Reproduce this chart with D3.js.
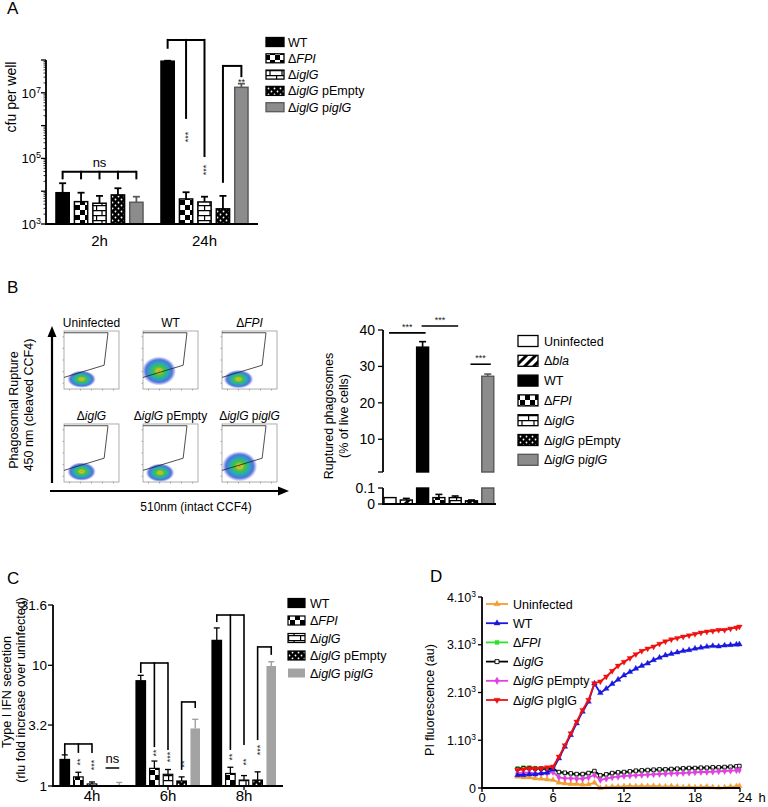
<!DOCTYPE html>
<html><head><meta charset="utf-8">
<script src="https://cdn.jsdelivr.net/npm/d3@7/dist/d3.min.js"></script>
<style>html,body{margin:0;padding:0;background:#fff;}svg{display:block}</style>
</head><body>
<svg id="fig" width="768" height="807"></svg>
<script>
// ================= DATA =================
const labelParts = {
  Uninfected: [["Uninfected",0]],
  bla: [["Δ",0],["bla",1]],
  WT: [["WT",0]],
  FPI: [["Δ",0],["FPI",1]],
  iglG: [["Δ",0],["iglG",1]],
  pEmpty: [["Δ",0],["iglG",1],[" pEmpty",0]],
  piglG: [["Δ",0],["iglG",1],[" p",0],["iglG",1]],
  pIglGD: [["Δ",0],["iglG",1],[" pIglG",0]]
};
// Panel A
const strainsA = ["WT","FPI","iglG","pEmpty","piglG"];
const timesA = ["2h","24h"];
const cfuMean  = [[9000,4800,4300,7700,4600],[9.2e7,5800,4700,2900,1.47e7]];
const cfuUpper = [[17500,9000,7200,12300,6800],[9.5e7,9300,6800,7200,1.9e7]];
const cfuLabelExp = [3,5,7];
const bracketsA = [
  {g:0, level:3.9e4, legs:[[0,2.3e4],[1,2.3e4],[2,2.3e4],[3,2.3e4],[4,2.3e4]], text:"ns"},
  {g:1, level:4.1e8, legs:[[0,2.2e8],[1,1.6e6],[2,1.1e5]]},
  {g:1, level:6.6e7, legs:[[3,1.8e4],[4,3.0e7]]}
];
const starsA = [
  {g:1, bar:1, at:4.5e5, text:"***", v:1},
  {g:1, bar:2, at:4.4e4, text:"***", v:1},
  {g:1, bar:4, at:1.9e7, text:"**", v:0}
];
// Panel B (flow)
const flowIds = ["Uninfected","WT","FPI","iglG","pEmpty","piglG"];
const flowCenterX = [0.32,0.29,0.30,0.32,0.31,0.32];
const flowCenterY = [0.17,0.31,0.17,0.18,0.16,0.27];
const flowSpreadX = [0.26,0.31,0.27,0.26,0.26,0.32];
const flowSpreadY = [0.15,0.25,0.16,0.16,0.16,0.26];
const gateX = [0,0.73,0.80,0];
const gateY = [0.20,0.41,0.97,0.97];
// Panel B (bars)
const strainsB = ["Uninfected","bla","WT","FPI","iglG","pEmpty","piglG"];
const ruptMean  = [0.04,0.025,35.3,0.04,0.04,0.02,27.3];
const ruptUpper = [0.04,0.035,36.8,0.06,0.05,0.025,27.9];
const ruptTicksUpper = [10,20,30,40];
const ruptTicksLower = [0,0.1];
const sigB = [{a:0,b:2,level:39.2},{a:2,b:4,level:41.1},{a:5,b:6,level:30.6}];
// Panel C
const timesC = ["4h","6h","8h"];
const ifnMean  = [[1.66,1.19,1.04,1.0,1.02],[7.45,1.40,1.25,1.10,3.0],[16.1,1.27,1.12,1.12,9.87]];
const ifnUpper = [[1.81,1.30,1.08,1.0,1.07],[8.26,1.61,1.37,1.19,3.57],[20.4,1.43,1.22,1.31,10.7]];
const ifnTicks = [1,3.2,10,31.6];
const ifnTickLabels = ["1","3.2","10","31.6"];
const bracketsC = [
  {g:0, level:2.23, legs:[[0,1.81],[1,1.88],[2,1.88]]},
  {g:0, level:1.41, legs:[[3,1.41],[4,1.41]], text:"ns"},
  {g:1, level:10.45, legs:[[0,8.63],[1,2.1],[2,1.99]]},
  {g:1, level:4.97, legs:[[3,1.36],[4,4.43]]},
  {g:2, level:26.1, legs:[[0,22.8],[1,1.99],[2,2.19]]},
  {g:2, level:14.2, legs:[[3,2.40],[4,12.2]]}
];
const starsC = [
  {g:0,bar:1,at:1.58,text:"**"},{g:0,bar:2,at:1.49,text:"***"},
  {g:1,bar:1,at:1.88,text:"**"},{g:1,bar:2,at:1.74,text:"***"},{g:1,bar:3,at:1.52,text:"**"},
  {g:2,bar:1,at:1.74,text:"**"},{g:2,bar:2,at:1.58,text:"**"},{g:2,bar:3,at:1.99,text:"***"}
];
// Panel D
const seriesD = ["Uninfected","WT","FPI","iglG","pEmpty","piglG"];
const hoursD = [3,3.5,4,4.5,5,5.5,6,6.5,7,7.5,8,8.5,9,9.5,10,10.5,11,11.5,12,12.5,13,13.5,14,14.5,15,15.5,16,16.5,17,17.5,18,18.5,19,19.5,20,20.5,21,21.5,21.75];
const piUninfected = [237,223,223,202,195,181,168,112,98,84,84,70,75,112,0,14,28,28,35,42,35,42,35,42,35,28,35,28,14,28,14,21,28,14,7,14,28,35,42];
const piWT = [272,272,286,286,307,321,391,621,865,1110,1354,1598,1808,2190,1990,2080,2180,2270,2360,2430,2500,2560,2610,2680,2730,2780,2810,2840,2870,2890,2920,2940,2960,2975,2965,2985,2995,3005,3010];
const piFPI = [412,433,433,419,412,405,412,321,307,293,272,272,300,342,251,272,300,314,321,335,349,356,363,370,377,377,384,391,398,405,405,412,412,419,419,426,433,440,447];
const piIglG = [398,412,412,405,405,398,405,335,321,307,293,293,314,356,265,286,314,328,335,349,363,370,377,384,391,391,398,405,412,419,419,426,426,433,433,440,447,454,461];
const piPEmpty = [307,321,321,307,307,307,335,223,202,202,195,195,220,272,168,195,223,237,251,258,265,272,279,286,293,300,307,307,314,321,328,335,335,342,349,356,363,370,377];
const piPIglG = [377,391,412,405,412,433,447,656,893,1145,1389,1633,1843,2190,2230,2330,2450,2560,2640,2720,2800,2870,2920,2960,3020,3070,3110,3140,3170,3195,3225,3253,3274,3288,3309,3309,3337,3357,3378];
const piValues = [piUninfected, piWT, piFPI, piIglG, piPEmpty, piPIglG];
const piTicks = [0,1000,2000,3000,4000];
const hourTicks = [0,6,12,18];
const hourEndLabel = "24";
const hourUnit = "h";

// ================= STYLE =================
const FONT = "'Liberation Sans', Arial, Helvetica, sans-serif";
const svg = d3.select("#fig").style("font-family", FONT);
const defs = svg.append("defs");
function pattern(id,w,h,bg,fn){
  const p = defs.append("pattern").attr("id",id).attr("patternUnits","userSpaceOnUse").attr("width",w).attr("height",h);
  p.append("rect").attr("width",w).attr("height",h).attr("fill",bg); fn(p);
}
pattern("pChecker",10,10,"#fff",p=>p.append("path").attr("d","M0,0h5v5h-5zM5,5h5v5h-5z").attr("fill","#000"));
pattern("pBricks",12,10,"#fff",p=>p.append("path").attr("d","M0,0.6H12M0,5.6H12M6,0.6V5.6M0.6,5.6V10.6").attr("stroke","#000").attr("stroke-width",1.2).attr("fill","none"));
pattern("pDots",6,6,"#000",p=>{p.append("circle").attr("cx",1.5).attr("cy",1.5).attr("r",0.9).attr("fill","#fff");p.append("circle").attr("cx",4.5).attr("cy",4.5).attr("r",0.9).attr("fill","#fff");});
pattern("pDiag",9,9,"#fff",p=>p.append("path").attr("d","M-3,3L3,-3M0,9L9,0M6,12L12,6").attr("stroke","#000").attr("stroke-width",3));
const rg = defs.append("radialGradient").attr("id","gDens");
[[0,"#e08a20",1],[0.12,"#c8c828",1],[0.3,"#4cc040",1],[0.55,"#18a8b0",0.95],[0.78,"#2850d8",0.8],[1,"#3050e0",0]]
  .forEach(([o,c,op])=>rg.append("stop").attr("offset",o).attr("stop-color",c).attr("stop-opacity",op));

const fillOf = {WT:"#000",FPI:"url(#pChecker)",iglG:"url(#pBricks)",pEmpty:"url(#pDots)",piglG:"#8c8c8c",Uninfected:"#fff",bla:"url(#pDiag)"};
const STAR = "#222";

function rich(sel, parts){ parts.forEach(([t,it])=>sel.append("tspan").text(t).attr("font-style", it?"italic":null)); return sel; }
function line(g,x1,y1,x2,y2,c,w){ return g.append("line").attr("x1",x1).attr("y1",y1).attr("x2",x2).attr("y2",y2).attr("stroke",c||"#000").attr("stroke-width",w||1.5); }
function errBar(g,cx,y0,y1,cap,c,w){ line(g,cx,y0,cx,y1,c,w); line(g,cx-cap/2,y1,cx+cap/2,y1,c,w); }
function vstars(g,cx,cy,txt,fs,c){ g.append("text").attr("transform",`translate(${cx+fs*0.55},${cy}) rotate(-90)`).attr("text-anchor","middle").attr("font-size",fs).attr("fill",c||STAR).text(txt); }
function panelLetter(t,x,y){ svg.append("text").attr("x",x).attr("y",y).attr("font-size",17).text(t); }
function bracket(g, xs, yLevel, yEnds, w){
  line(g, d3.min(xs), yLevel, d3.max(xs), yLevel, "#000", w);
  xs.forEach((x,i)=>line(g, x, yLevel-w/2, x, yEnds[i], "#000", w));
}

// ================= PANEL A =================
panelLetter("A",7,14);
const gA = svg.append("g");
const yA = d3.scaleLog().domain([1e3,1e8]).range([224,60]);
const xA = d3.scaleBand().domain(timesA).range([46,258]).paddingInner(0.171).paddingOuter(0.095);
const xAi = d3.scaleBand().domain(d3.range(5)).range([0,xA.bandwidth()]).paddingInner(0.28);
const cxA = (g,i)=>xA(timesA[g])+xAi(i)+xAi.bandwidth()/2;
timesA.forEach((t,gi)=>strainsA.forEach((s,i)=>{
  const x = xA(t)+xAi(i), w = xAi.bandwidth(), v = cfuMean[gi][i];
  const sc = s==="piglG" ? "#5a5a5a" : "#000";
  errBar(gA, x+w/2, yA(v), yA(cfuUpper[gi][i]), 7, sc, 1.8);
  gA.append("rect").attr("x",x).attr("y",yA(v)).attr("width",w).attr("height",yA(1e3)-yA(v))
    .attr("fill",fillOf[s]).attr("stroke",sc).attr("stroke-width",1.5);
}));
line(gA,46,yA(1e3)+0.8,46,yA(1e8),"#000",1.8);
yA.ticks().forEach(v=>{
  const major = Math.abs(Math.log10(v)-Math.round(Math.log10(v)))<1e-9;
  line(gA,46,yA(v),46-(major?5:2.5),yA(v),"#000",major?1.3:0.8);
});
cfuLabelExp.forEach(e=>{
  const t = gA.append("text").attr("x",41).attr("y",yA(10**e)+5).attr("text-anchor","end").attr("font-size",13);
  t.append("tspan").text("10"); t.append("tspan").attr("font-size",9).attr("dy",-5).text(e);
});
line(gA,45,yA(1e3),258,yA(1e3),"#000",1.8);
timesA.forEach(t=>{
  gA.append("text").attr("x",xA(t)+xA.bandwidth()/2).attr("y",246).attr("text-anchor","middle").attr("font-size",15).text(t);
});
gA.append("text").attr("transform","translate(16,97) rotate(-90)").attr("text-anchor","middle").attr("font-size",14).text("cfu per well");
bracketsA.forEach(b=>{
  bracket(gA, b.legs.map(l=>cxA(b.g,l[0])), yA(b.level), b.legs.map(l=>yA(l[1])), 2);
  if(b.text) gA.append("text").attr("x",(cxA(b.g,b.legs[0][0])+cxA(b.g,b.legs[b.legs.length-1][0]))/2).attr("y",yA(b.level)-5)
    .attr("text-anchor","middle").attr("font-size",13).text(b.text);
});
starsA.forEach(s=>{
  if(s.v) vstars(gA, cxA(s.g,s.bar), yA(s.at), s.text, 9);
  else gA.append("text").attr("x",cxA(s.g,s.bar)).attr("y",yA(s.at)+1).attr("text-anchor","middle").attr("font-size",9).attr("fill",STAR).text(s.text);
});
strainsA.forEach((s,i)=>{
  const yc = 42 + i*16.3;
  gA.append("rect").attr("x",266).attr("y",yc-4.5).attr("width",18).attr("height",9).attr("fill",fillOf[s]).attr("stroke",s==="piglG"?"#5a5a5a":"#000").attr("stroke-width",1.3);
  rich(gA.append("text").attr("x",288).attr("y",yc+4.5).attr("font-size",12.5), labelParts[s]);
});

// ================= PANEL B flow =================
panelLetter("B",7,293);
const gF = svg.append("g");
const col = d3.scaleBand().domain([0,1,2]).range([64,277]).paddingInner(0.304);
const row = d3.scaleBand().domain([0,1]).range([331,482]).paddingInner(0.376);
flowIds.forEach((id,k)=>{
  const r = Math.floor(k/3), c = k%3;
  const x0 = col(c), y0 = row(r), w = col.bandwidth(), h = row.bandwidth();
  const fx = d3.scaleLinear([0,1],[x0,x0+w]), fy = d3.scaleLinear([0,1],[y0+h,y0]);
  defs.append("clipPath").attr("id","clipF"+k).append("rect").attr("x",x0).attr("y",y0).attr("width",w).attr("height",h);
  const g = gF.append("g");
  g.append("rect").attr("x",x0).attr("y",y0).attr("width",w).attr("height",h).attr("fill","#fff");
  g.append("ellipse").attr("clip-path",`url(#clipF${k})`).attr("cx",fx(flowCenterX[k])).attr("cy",fy(flowCenterY[k]))
    .attr("rx",w*flowSpreadX[k]).attr("ry",h*flowSpreadY[k]).attr("fill","url(#gDens)");
  g.append("rect").attr("x",x0).attr("y",y0).attr("width",w).attr("height",h).attr("fill","none").attr("stroke","#9a9a9a").attr("stroke-width",0.8);
  g.append("path").attr("d", d3.line()(gateX.map((gx,i)=>[fx(gx),fy(gateY[i])]))).attr("fill","none").attr("stroke","#222").attr("stroke-width",0.8);
  [0.1,0.3,0.5,0.7,0.9].forEach(t=>{ line(g,fx(t),y0+h,fx(t),y0+h+1.5,"#777",0.6); line(g,x0,fy(t),x0-1.5,fy(t),"#777",0.6); });
  rich(g.append("text").attr("x",x0+w/2).attr("y",y0-4).attr("text-anchor","middle").attr("font-size",12), labelParts[id]);
});
line(gF,52,483,52,334,"#000",2.2);
gF.append("path").attr("d","M52,326L47.5,337L56.5,337Z").attr("fill","#000");
line(gF,50,491,281,491,"#000",2.2);
gF.append("path").attr("d","M289,491L278,486.5L278,495.5Z").attr("fill","#000");
gF.append("text").attr("x",196).attr("y",511).attr("text-anchor","middle").attr("font-size",12).text("510nm (intact CCF4)");
gF.append("text").attr("transform","translate(18,410) rotate(-90)").attr("text-anchor","middle").attr("font-size",12.5).text("Phagosomal Rupture");
gF.append("text").attr("transform","translate(33,405) rotate(-90)").attr("text-anchor","middle").attr("font-size",12.5).text("450 nm (cleaved CCF4)");

// ================= PANEL B bars =================
const gB = svg.append("g");
const xB = d3.scaleBand().domain(strainsB).range([382.4,495.4]).paddingInner(0.264).paddingOuter(0.1);
const yBu = d3.scaleLinear([1,40],[472,330]);
const yBl = d3.scaleLinear([0,0.1],[504,488]);
const cxB = i=>xB(strainsB[i])+xB.bandwidth()/2;
strainsB.forEach((s,i)=>{
  const x = xB(s), w = xB.bandwidth(), v = ruptMean[i], u = ruptUpper[i];
  const sc = s==="piglG" ? "#555" : "#000";
  const yTop = v>0.1 ? yBu(v) : yBl(v);
  const yErr = u>0.1 ? yBu(u) : yBl(u);
  if(u>v) errBar(gB, x+w/2, yTop, yErr, 7, sc, 1.6);
  gB.append("rect").attr("x",x).attr("y",yBl(Math.min(v,0.1))).attr("width",w).attr("height",yBl(0)-yBl(Math.min(v,0.1)))
    .attr("fill",fillOf[s]).attr("stroke",sc).attr("stroke-width",1.4);
  if(v>0.1) gB.append("rect").attr("x",x).attr("y",yBu(v)).attr("width",w).attr("height",yBu(1)-yBu(v))
    .attr("fill",fillOf[s]).attr("stroke",sc).attr("stroke-width",1.4);
});
line(gB,383,yBu(1),383,yBu(40),"#000",1.8);
[1].concat(ruptTicksUpper).forEach(v=>line(gB,383,yBu(v),378,yBu(v),"#000",1.3));
ruptTicksUpper.forEach(v=>gB.append("text").attr("x",375).attr("y",yBu(v)+5).attr("text-anchor","end").attr("font-size",14).text(v));
line(gB,383,yBl(0),383,yBl(0.1),"#000",1.8);
ruptTicksLower.forEach(v=>{ line(gB,383,yBl(v),378,yBl(v),"#000",1.3);
  gB.append("text").attr("x",375).attr("y",yBl(v)+5).attr("text-anchor","end").attr("font-size",14).text(v); });
line(gB,382,yBl(0),496,yBl(0),"#000",1.8);
sigB.forEach(s=>{
  const x1 = cxB(s.a)-1, x2 = cxB(s.b)+3, y = yBu(s.level);
  line(gB,x1,y,x2,y,"#000",1.6);
  gB.append("text").attr("x",(x1+x2)/2).attr("y",y-3).attr("text-anchor","middle").attr("font-size",9).attr("fill",STAR).text("***");
});
gB.append("text").attr("transform","translate(333,416) rotate(-90)").attr("text-anchor","middle").attr("font-size",12.5).text("Ruptured phagosomes");
gB.append("text").attr("transform","translate(348,416) rotate(-90)").attr("text-anchor","middle").attr("font-size",12.5).text("(% of live cells)");
strainsB.forEach((s,i)=>{
  const yc = 341 + i*19.8;
  gB.append("rect").attr("x",518).attr("y",yc-5.5).attr("width",20).attr("height",11).attr("fill",fillOf[s]).attr("stroke",s==="piglG"?"#555":"#000").attr("stroke-width",1.3);
  rich(gB.append("text").attr("x",544).attr("y",yc+4.5).attr("font-size",12.5), labelParts[s]);
});

// ================= PANEL C =================
panelLetter("C",7,584);
const gC = svg.append("g");
const yC = d3.scaleLog().domain([1,31.6]).range([786,605]);
const xC = d3.scaleBand().domain(timesC).range([53,283]).paddingInner(0.158).paddingOuter(0.092);
const xCi = d3.scaleBand().domain(d3.range(5)).range([0,xC.bandwidth()]).paddingInner(0.3);
const cxC = (g,i)=>xC(timesC[g])+xCi(i)+xCi.bandwidth()/2;
timesC.forEach((t,gi)=>strainsA.forEach((s,i)=>{
  const x = xC(t)+xCi(i), w = xCi.bandwidth(), v = ifnMean[gi][i], u = ifnUpper[gi][i];
  const gray = s==="piglG";
  if(u>v) errBar(gC, x+w/2, yC(v), yC(u), 6, gray?"#9a9a9a":"#000", 1.3);
  if(v>1) gC.append("rect").attr("x",x).attr("y",yC(v)).attr("width",w).attr("height",yC(1)-yC(v))
    .attr("fill",gray?"#a3a3a3":fillOf[s]).attr("stroke",gray?"none":"#000").attr("stroke-width",1.2);
}));
line(gC,53,yC(1)+0.8,53,yC(31.6),"#000",1.8);
ifnTicks.forEach((v,i)=>{ line(gC,53,yC(v),48,yC(v),"#000",1.3);
  gC.append("text").attr("x",47).attr("y",yC(v)+5).attr("text-anchor","end").attr("font-size",13.5).text(ifnTickLabels[i]); });
line(gC,52,yC(1),283,yC(1),"#000",1.8);
timesC.forEach(t=>{ const cx = xC(t)+xC.bandwidth()/2; line(gC,cx,yC(1),cx,yC(1)+4,"#000",1.3);
  gC.append("text").attr("x",cx).attr("y",801).attr("text-anchor","middle").attr("font-size",15).text(t); });
gC.append("text").attr("transform","translate(11,692) rotate(-90)").attr("text-anchor","middle").attr("font-size",12.5).text("Type I IFN secretion");
gC.append("text").attr("transform","translate(25,690) rotate(-90)").attr("text-anchor","middle").attr("font-size",12.5).text("(rlu fold increase over uninfected)");
bracketsC.forEach(b=>{
  const xs = b.legs.map(l=>cxC(b.g,l[0]));
  if(b.text){ line(gC,d3.min(xs),yC(b.level),d3.max(xs),yC(b.level),"#000",1.5);
    gC.append("text").attr("x",d3.mean(xs)).attr("y",yC(b.level)-5).attr("text-anchor","middle").attr("font-size",13).text(b.text); }
  else bracket(gC, xs, yC(b.level), b.legs.map(l=>yC(l[1])), 1.6);
});
starsC.forEach(s=>vstars(gC, cxC(s.g,s.bar), yC(s.at), s.text, 9));
strainsA.forEach((s,i)=>{
  const yc = 603 + i*17.5;
  gC.append("rect").attr("x",288).attr("y",yc-4.5).attr("width",17).attr("height",9)
    .attr("fill",s==="piglG"?"#a3a3a3":fillOf[s]).attr("stroke",s==="piglG"?"none":"#000").attr("stroke-width",1.2);
  rich(gC.append("text").attr("x",310).attr("y",yc+4.5).attr("font-size",12.5), labelParts[s]);
});

// ================= PANEL D =================
panelLetter("D",430,582);
const gD = svg.append("g");
const xD = d3.scaleLinear([0,24],[482,766]);
const yD = d3.scaleLinear([0,4000],[788,597]);
const xAxisEndD = 740;
const colD = {Uninfected:"#f0a030",WT:"#1818e0",FPI:"#30e030",iglG:"#000",pEmpty:"#e040e0",piglG:"#f01010"};
const symD = {Uninfected:[d3.symbolTriangle,0],WT:[d3.symbolTriangle,0],FPI:[d3.symbolSquare,0],iglG:[d3.symbolSquare,0],pEmpty:[d3.symbolDiamond,0],piglG:[d3.symbolTriangle,180]};
const drawOrder = [0,2,3,4,1,5];
function marker(g,id,x,y,sz){
  const [type,rot] = symD[id];
  g.append("path").attr("d",d3.symbol().type(type).size(sz)()).attr("transform",`translate(${x},${y}) rotate(${rot})`)
    .attr("fill",id==="iglG"?"#fff":colD[id]).attr("stroke",colD[id]).attr("stroke-width",id==="iglG"?0.9:0.4);
}
drawOrder.forEach(k=>{
  const id = seriesD[k], vals = piValues[k];
  const pts = hoursD.map((h,i)=>[xD(h),yD(vals[i])]);
  gD.append("path").attr("d",d3.line()(pts)).attr("fill","none").attr("stroke",colD[id]).attr("stroke-width",1.8);
  pts.forEach(p=>marker(gD,id,p[0],p[1],id==="iglG"?12:14));
});
line(gD,482,788.8,482,597,"#000",1.8);
piTicks.forEach(v=>{ line(gD,482,yD(v),478,yD(v),"#000",1.3);
  const t = gD.append("text").attr("x",476).attr("y",yD(v)+4.5).attr("text-anchor","end").attr("font-size",12.5);
  if(v===0) t.text("0"); else { t.append("tspan").text((v/1000)+".10"); t.append("tspan").attr("font-size",8.5).attr("dy",-5).text("3"); }
});
line(gD,481,788,xAxisEndD,788,"#000",1.8);
hourTicks.forEach(h=>{ line(gD,xD(h),788,xD(h),792,"#000",1.3);
  gD.append("text").attr("x",xD(h)).attr("y",802).attr("text-anchor","middle").attr("font-size",13).text(h); });
line(gD,xAxisEndD,788,xAxisEndD,792,"#000",1.3);
gD.append("text").attr("x",xAxisEndD+5).attr("y",802).attr("text-anchor","middle").attr("font-size",13).text(hourEndLabel);
gD.append("text").attr("x",xAxisEndD+22).attr("y",802).attr("text-anchor","middle").attr("font-size",13).text(hourUnit);
gD.append("text").attr("transform","translate(434,700) rotate(-90)").attr("text-anchor","middle").attr("font-size",12.5).text("PI fluorescence (au)");
seriesD.forEach((id,i)=>{
  const yc = 604 + i*19.2;
  line(gD,486,yc,508,yc,colD[id],1.8);
  marker(gD,id,497,yc,16);
  rich(gD.append("text").attr("x",513).attr("y",yc+4.5).attr("font-size",12.5), id==="piglG"?labelParts.pIglGD:labelParts[id]);
});
</script>
</body></html>
